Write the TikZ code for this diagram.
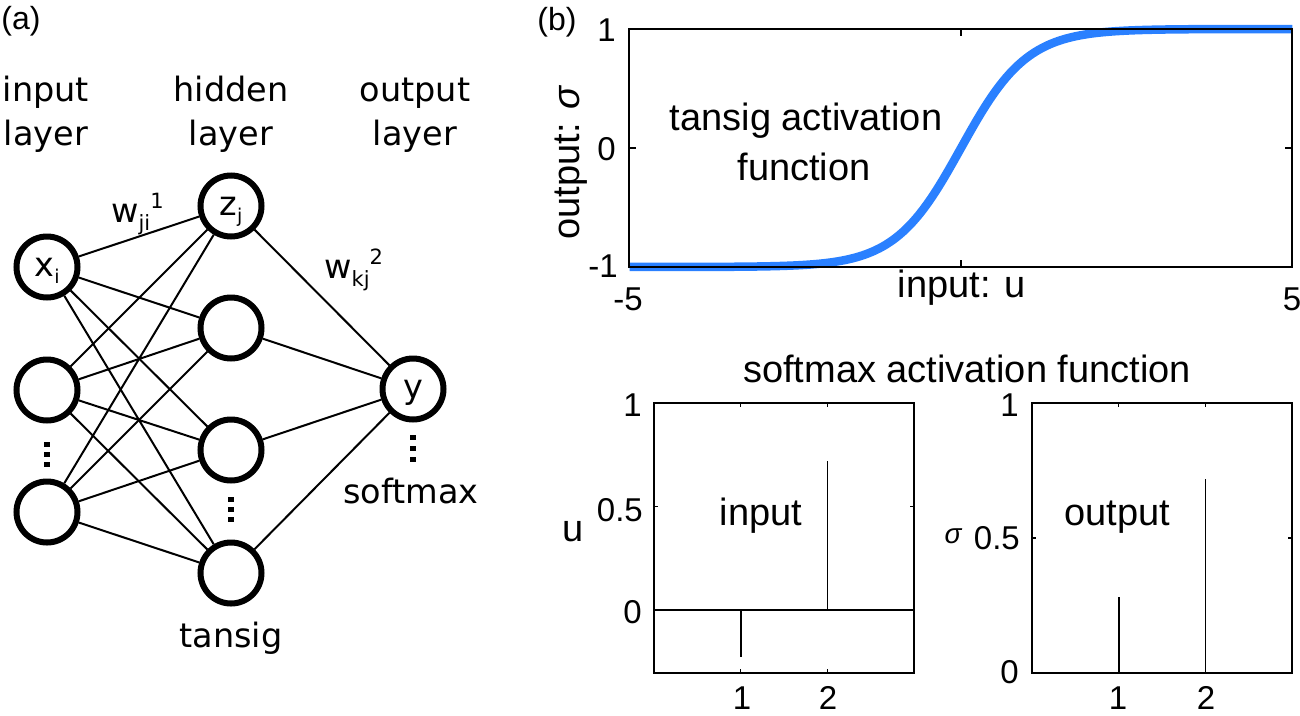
\documentclass[tikz,border=0pt]{standalone}
\usepackage{fontspec}
\setmainfont{DejaVu Sans}
\newfontfamily\helv{Liberation Sans}
\definecolor{curveblue}{RGB}{42,128,255}
\newcommand{\nsub}[1]{\raisebox{-7pt}{\fontsize{19}{19}\selectfont #1}}
\newcommand{\wlab}[2]{w\raisebox{-8pt}{\fontsize{21}{21}\selectfont #1}\raisebox{14pt}{\fontsize{21}{21}\selectfont #2}}
\begin{document}
\begin{tikzpicture}[x=1pt,y=-1pt,
  neuron/.style={circle, draw, line width=6pt, minimum size=61pt, inner sep=0pt, fill=white,
     font=\fontsize{33.5}{40}\selectfont, text depth=0pt},
  lbl/.style={font=\fontsize{33.5}{40}\selectfont, inner sep=0pt},
  conn/.style={line width=2pt},
  plt/.style={font=\helv\fontsize{38}{44}\selectfont, inner sep=0pt},
  ticklbl/.style={font=\helv\fontsize{33}{38}\selectfont, inner sep=0pt},
  axisline/.style={line width=1.5pt},
  stem/.style={line width=1.6pt}]
\useasboundingbox (0,0) rectangle (1300,715);
% ---------------- (a) network ----------------
\node[font=\helv\fontsize{32}{36}\selectfont, inner sep=0pt] (pa) at (21,21) {(a)};
\node[lbl, anchor=base] (in1) at (46,101) {input};
\node[lbl, anchor=base] (in2) at (46,145) {layer};
\node[lbl, anchor=base] (hid1) at (231,101) {hidden};
\node[lbl, anchor=base] (hid2) at (231,145) {layer};
\node[lbl, anchor=base] (out1) at (415,101) {output};
\node[lbl, anchor=base] (out2) at (415,145) {layer};

\node[neuron] (i1) at (47,267) {x\nsub{i}};
\node[neuron] (i2) at (47,390) {};
\node[neuron] (i3) at (47,512) {};
\node[neuron] (h1) at (231,206) {z\nsub{j}};
\node[neuron] (h2) at (231,328) {};
\node[neuron] (h3) at (231,450) {};
\node[neuron] (h4) at (231,573) {};
\node[neuron] (o) at (413,389) {y};

\foreach \a in {i1,i2,i3}
  \foreach \b in {h1,h2,h3,h4}
    \draw[conn] (\a) -- (\b);
\foreach \b in {h1,h2,h3,h4}
  \draw[conn] (\b) -- (o);

\foreach \yy in {442,452,462} \fill (44,\yy) rectangle (50,\yy+5);
\foreach \yy in {497,507,517} \fill (228,\yy) rectangle (234,\yy+5);
\foreach \yy in {435,446,457} \fill (410,\yy) rectangle (416,\yy+5);

\node[lbl, anchor=base west] (w1) at (111,222) {\wlab{ji}{1}};
\node[lbl, anchor=base west] (w2) at (324,278) {\wlab{kj}{2}};
\node[lbl, anchor=base] (tansig) at (231,647) {tansig};
\node[lbl, anchor=base] (softmax) at (411,503) {softmax};

% ---------------- (b) tansig plot ----------------
\node[font=\helv\fontsize{32}{36}\selectfont, inner sep=0pt] (pb) at (557,22) {(b)};
\draw[curveblue, line width=8.5pt] plot[domain=-5:5, samples=200] ({961+66.3*\x},{148-119*tanh(\x)});
\draw[axisline] (629,29) rectangle (1292,267);
\draw[axisline] (961,29) -- (961,36) (961,267) -- (961,260)
                (629,148) -- (636,148) (1292,148) -- (1285,148);
\node[ticklbl, anchor=east] at (616,30) {1};
\node[ticklbl, anchor=east] at (616,149) {0};
\node[ticklbl, anchor=east] at (618,266) {-1};
\node[ticklbl] at (628,299) {-5};
\node[ticklbl] at (1292,299) {5};
\node[plt, anchor=base] at (962,297) {input: u};
\node[plt, rotate=90] at (571,163) {output: {\itshape σ}};
\node[plt, anchor=base] at (806,130) {tansig activation};
\node[plt, anchor=base] at (804,180) {function};

% ---------------- softmax plots ----------------
\node[plt, anchor=base] at (967,382) {softmax activation function};
% left
\draw[axisline] (654,403) rectangle (914,673);
\draw[axisline] (654,610) -- (914,610);
\draw[stem] (740.7,610) -- (740.7,657);
\draw[stem] (827.3,610) -- (827.3,461);
\draw[axisline] (740.7,403) -- (740.7,407) (827.3,403) -- (827.3,407)
                (740.7,673) -- (740.7,669) (827.3,673) -- (827.3,669)
                (654,506.5) -- (658,506.5) (914,506.5) -- (910,506.5);
\node[ticklbl, anchor=east] at (642,405) {1};
\node[ticklbl, anchor=east] at (643,510) {0.5};
\node[ticklbl, anchor=east] at (642,612) {0};
\node[ticklbl] at (742,698) {1};
\node[ticklbl] at (828,698) {2};
\node[plt, anchor=base] at (573,541) {u};
\node[plt, anchor=base] at (761,525) {input};
% right
\draw[axisline] (1032,403) rectangle (1292,673);
\draw[stem] (1118.7,673) -- (1118.7,597);
\draw[stem] (1205.3,673) -- (1205.3,479);
\draw[axisline] (1118.7,403) -- (1118.7,407) (1205.3,403) -- (1205.3,407)
                (1032,538) -- (1036,538) (1292,538) -- (1288,538);
\node[ticklbl, anchor=east] at (1019,405) {1};
\node[ticklbl, anchor=east] at (1020,538) {0.5};
\node[ticklbl, anchor=east] at (1019,672) {0};
\node[ticklbl] at (1118,698) {1};
\node[ticklbl] at (1206,698) {2};
\node[font=\helv\itshape\fontsize{28}{32}\selectfont, inner sep=0pt, anchor=base] at (953,543) {σ};
\node[plt, anchor=base] at (1117,525) {output};
\end{tikzpicture}
\end{document}
